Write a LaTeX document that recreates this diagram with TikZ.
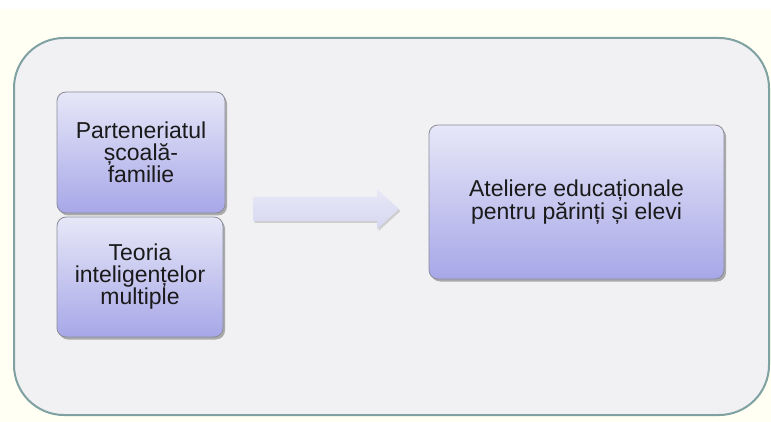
\documentclass[tikz,border=0pt]{standalone}
\usepackage{fontspec}
\setmainfont{Liberation Sans}
\usetikzlibrary{shadows}
\definecolor{cream}{HTML}{FFFFF3}
\definecolor{outerfill}{HTML}{F1F1F3}
\definecolor{outerline}{HTML}{7FA1A1}
\definecolor{boxtop}{HTML}{E7E7F8}
\definecolor{boxbot}{HTML}{A7A7E8}
\definecolor{boxline}{HTML}{8C8C9C}
\definecolor{arrtop}{HTML}{E8E8F8}
\definecolor{arrbot}{HTML}{D6D6F0}
\definecolor{txt}{HTML}{1A1A1A}
\begin{document}
\begin{tikzpicture}[x=1pt,y=-1pt,
  outerbox/.style={draw=outerline, line width=2pt, fill=outerfill, rounded corners=50pt, inner sep=0pt},
  cardbox/.style={draw=boxline, line width=0.8pt, rounded corners=9pt,
    top color=boxtop, bottom color=boxbot,
    drop shadow={shadow xshift=2pt,shadow yshift=-2.5pt,opacity=0.4,fill=black!75},
    align=center, text=txt, font=\fontsize{23}{21.5}\selectfont, inner sep=0pt},
  blockarrow/.style={top color=arrtop, bottom color=arrbot,
    drop shadow={shadow xshift=1.5pt,shadow yshift=-2pt,opacity=0.25,fill=black!60}}
]
\useasboundingbox (0,0) rectangle (771,422);
\fill[white] (0,0) rectangle (771,9);
\fill[cream] (0,9) rectangle (771,422);
\node[outerbox, minimum width=755pt, minimum height=377pt] (outer) at (391.5,226.5) {};
\node[cardbox, minimum width=168pt, minimum height=121pt] (a) at (141,152.5) {Parteneriatul\\școală-\\familie};
\node[cardbox, minimum width=166pt, minimum height=120pt] (b) at (140,277) {Teoria\\inteligențelor\\multiple};
\node[cardbox, minimum width=295pt, minimum height=154pt, font=\fontsize{23}{23}\selectfont] (c) at (576.5,202) {Ateliere educaționale\\pentru părinți și elevi};
\coordinate (s) at (253,209);
\shade[blockarrow] ([yshift=12pt]s) -- ++(124,0) -- ++(0,-8) -- (399,209) -- (377,229) -- ++(0,-8) -- ([yshift=-12pt]s) -- cycle;
\end{tikzpicture}
\end{document}
